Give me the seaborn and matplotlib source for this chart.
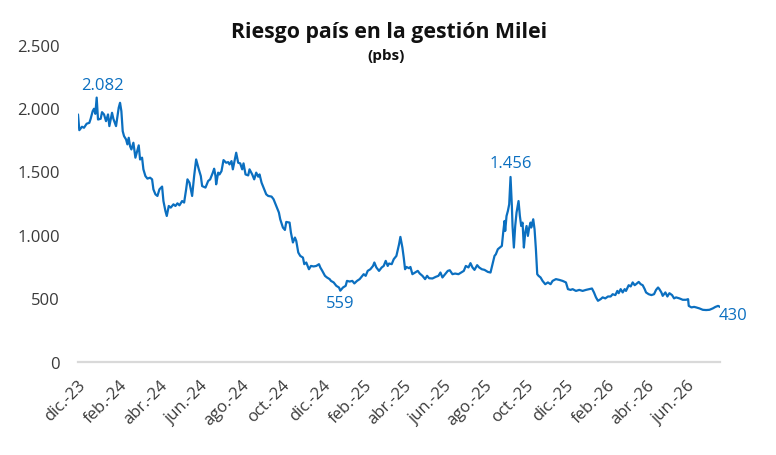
import numpy as np
import pandas as pd
import matplotlib
matplotlib.use("Agg")
import matplotlib.pyplot as plt
import matplotlib.ticker as mticker
import matplotlib.transforms as mtransforms
import seaborn as sns

# ---------------- data ----------------
fecha_inicio = "2023-12-11"

# days since fecha_inicio
dias = [0, 2, 6, 9, 13, 17, 19, 22, 24, 26,
        28, 30, 34, 36, 39, 42, 45, 47, 51, 53,
        57, 61, 63, 65, 67, 69, 72, 74, 76, 78,
        80, 83, 86, 88, 91, 93, 96, 98, 101, 104,
        108, 111, 113, 116, 119, 122, 126, 128, 131, 133,
        136, 139, 143, 146, 149, 152, 156, 159, 162, 164,
        167, 171, 174, 177, 181, 184, 186, 191, 195, 198,
        202, 204, 206, 207, 210, 212, 215, 218, 222, 225,
        227, 230, 232, 235, 237, 240, 243, 246, 248, 251,
        255, 257, 261, 264, 267, 270, 272, 275, 278, 282,
        285, 290, 293, 297, 301, 303, 307, 310, 312, 317,
        319, 322, 325, 327, 330, 333, 337, 339, 342, 346,
        349, 353, 357, 361, 363, 366, 370, 373, 377, 379,
        383, 387, 391, 393, 397, 401, 403, 407, 411, 414,
        418, 422, 426, 428, 431, 434, 438, 442, 444, 447,
        451, 455, 458, 461, 464, 466, 470, 473, 475, 477,
        481, 483, 486, 488, 490, 492, 496, 498, 501, 505,
        509, 512, 516, 520, 523, 526, 531, 536, 540, 543,
        546, 550, 554, 557, 561, 565, 570, 574, 578, 581,
        585, 588, 591, 594, 598, 601, 605, 609, 614, 618,
        621, 624, 626, 629, 632, 635, 637, 639, 640, 642,
        644, 646, 648, 650, 651, 653, 655, 657, 660, 662,
        664, 666, 668, 670, 672, 674, 676, 678, 679, 682,
        684, 686, 688, 690, 693, 696, 700, 704, 708, 711,
        716, 721, 726, 731, 734, 738, 741, 746, 751, 756,
        761, 766, 770, 773, 776, 779, 783, 786, 790, 794,
        798, 801, 805, 808, 810, 813, 816, 819, 821, 825,
        828, 831, 834, 836, 840, 843, 846, 849, 851, 855,
        859, 863, 866, 869, 871, 874, 876, 880, 883, 886,
        890, 893, 896, 901, 906, 911, 914, 915, 919, 923,
        926, 931, 936, 941, 946, 951, 955, 959, 962]

# riesgo pais (pbs)
riesgo = [1949, 1825, 1852, 1844, 1876, 1883, 1915, 1975, 1994, 1954,
          2082, 1909, 1915, 1967, 1949, 1896, 1949, 1857, 1962, 1915,
          1857, 2002, 2041, 1975, 1817, 1778, 1752, 1713, 1765, 1699,
          1673, 1726, 1608, 1647, 1705, 1594, 1608, 1516, 1463, 1443,
          1450, 1437, 1358, 1319, 1306, 1358, 1380, 1266, 1187, 1148,
          1227, 1214, 1240, 1227, 1248, 1232, 1266, 1254, 1358, 1437,
          1411, 1306, 1463, 1594, 1516, 1463, 1384, 1372, 1424, 1437,
          1490, 1521, 1463, 1398, 1490, 1476, 1502, 1589, 1568, 1573,
          1555, 1581, 1516, 1594, 1647, 1568, 1563, 1516, 1563, 1476,
          1468, 1516, 1476, 1437, 1490, 1458, 1476, 1411, 1372, 1319,
          1306, 1301, 1280, 1227, 1175, 1122, 1057, 1038, 1101, 1096,
          1017, 939, 978, 951, 860, 833, 820, 768, 781, 728,
          754, 750, 754, 768, 742, 715, 676, 663, 650, 636,
          624, 597, 584, 559, 584, 597, 636, 631, 636, 616,
          636, 650, 676, 689, 676, 715, 728, 754, 781, 742,
          715, 742, 754, 794, 754, 773, 768, 807, 820, 833,
          925, 983, 899, 820, 728, 746, 736, 746, 689, 702,
          715, 694, 676, 650, 676, 657, 655, 668, 676, 702,
          663, 689, 715, 720, 689, 694, 689, 702, 715, 754,
          742, 776, 742, 723, 760, 742, 728, 723, 707, 702,
          768, 833, 846, 886, 899, 912, 1017, 1109, 1030, 1148,
          1187, 1240, 1456, 1227, 1069, 899, 1069, 1175, 1266, 1148,
          1069, 1096, 899, 1017, 1069, 991, 1057, 1096, 1057, 1122,
          1043, 886, 689, 676, 663, 636, 610, 624, 610, 636,
          650, 644, 636, 624, 571, 565, 571, 557, 565, 557,
          565, 571, 576, 545, 506, 479, 492, 506, 498, 513,
          513, 531, 524, 557, 539, 571, 545, 571, 557, 602,
          592, 624, 602, 610, 628, 610, 602, 571, 545, 531,
          524, 531, 565, 584, 571, 545, 518, 545, 513, 539,
          524, 498, 506, 498, 487, 487, 492, 439, 427, 431,
          427, 419, 408, 406, 408, 419, 431, 439, 430]

etiquetas_x = ["dic.-23", "feb.-24", "abr.-24", "jun.-24", "ago.-24", "oct.-24",
               "dic.-24", "feb.-25", "abr.-25", "jun.-25", "ago.-25", "oct.-25",
               "dic.-25", "feb.-26", "abr.-26", "jun.-26"]
valores_y = [0, 500, 1000, 1500, 2000, 2500]
anotados = [2082, 559, 1456, 430]

titulo = "Riesgo país en la gestión Milei"
subtitulo = "(pbs)"

# ---------------- plot ----------------
sns.set_theme(style="white")
plt.rcParams["font.family"] = ["Open Sans", "DejaVu Sans"]

inicio = pd.Timestamp(fecha_inicio)
df = pd.DataFrame({"fecha": inicio + pd.to_timedelta(dias, unit="D"),
                   "riesgo": riesgo})

azul = "#0b6fc0"
gris_txt = "#3a3a3a"

fig = plt.figure(figsize=(7.76, 4.56), dpi=100)
ax = fig.add_axes([0.1005, 0.205, 0.8275, 0.695])

sns.lineplot(data=df, x="fecha", y="riesgo", ax=ax, color=azul, linewidth=1.6)

ax.set_xlim(df["fecha"].iloc[0], df["fecha"].iloc[-1])
ax.set_ylim(valores_y[0], valores_y[-1])
ax.set_xlabel("")
ax.set_ylabel("")

ticks_x = [inicio + pd.DateOffset(months=2 * i) for i in range(len(etiquetas_x))]
ax.set_xticks(ticks_x)
ax.set_xticklabels(etiquetas_x, rotation=45, ha="right", va="top",
                   rotation_mode="anchor", fontsize=12, color=gris_txt)
offset = mtransforms.ScaledTranslation(3 / 100, 0, fig.dpi_scale_trans)
for lab in ax.get_xticklabels():
    lab.set_transform(lab.get_transform() + offset)

ax.set_yticks(valores_y)
ax.yaxis.set_major_formatter(mticker.FuncFormatter(lambda v, p: f"{int(v):,}".replace(",", ".")))
for lab in ax.get_yticklabels():
    lab.set_fontsize(12)
    lab.set_color(gris_txt)

ax.tick_params(axis="both", length=0)
ax.tick_params(axis="y", pad=13)
ax.tick_params(axis="x", pad=11)

for s in ["top", "right", "left"]:
    ax.spines[s].set_visible(False)
ax.spines["bottom"].set_color("#d9d9d9")
ax.spines["bottom"].set_linewidth(1.6)
ax.grid(False)

offsets_txt = {0: ((4, 3), "center", "bottom"),
               1: ((0, -3), "center", "top"),
               2: ((0, 4), "center", "bottom"),
               3: ((-1, -6), "left", "center")}
for i, val in enumerate(anotados):
    if i == len(anotados) - 1:
        idx = len(riesgo) - 1
    else:
        idx = riesgo.index(val)
    (dx, dy), ha, va = offsets_txt[i]
    ax.annotate(f"{val:,}".replace(",", "."),
                xy=(df["fecha"].iloc[idx], riesgo[idx]),
                xytext=(dx, dy), textcoords="offset points",
                ha=ha, va=va, fontsize=12, color=azul)

fig.text(389 / 776, 1 - 38 / 456, titulo, ha="center", va="baseline",
         fontsize=15.3, fontweight="bold", color="#111111")
fig.text(386 / 776, 1 - 60 / 456, subtitulo, ha="center", va="baseline",
         fontsize=11, fontweight="bold", color="#111111")

fig.savefig("out.png", dpi=100)
